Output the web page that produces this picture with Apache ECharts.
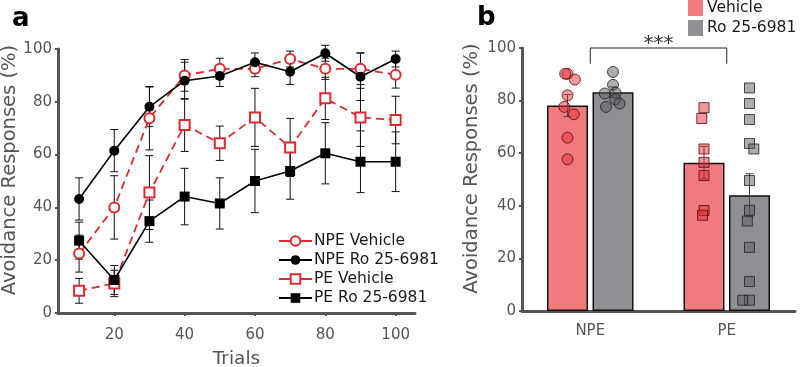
<!DOCTYPE html>
<html>
<head>
<meta charset="utf-8">
<script src="https://cdn.jsdelivr.net/npm/echarts@6/dist/echarts.min.js"></script>
<style>
  html, body { margin: 0; padding: 0; background: #fff; }
  #chart { width: 800px; height: 367px; }
</style>
</head>
<body>
<div id="chart"></div>
<script>
// panel a: avoidance over trials (mean +/- sem)
var trials = [10, 20, 30, 40, 50, 60, 70, 80, 90, 100];
var trialTicks = [20, 40, 60, 80, 100];
var npeVehicle = [22.5, 40, 73.8, 90, 92.5, 92.5, 96.2, 92.5, 92.5, 90.2];
var npeVehicleErr = [7, 12, 12, 6, 4, 3, 3, 4, 6, 5];
var npeRo = [43.2, 61.5, 78.1, 88, 89.8, 95, 91.4, 98.4, 89.5, 96.2];
var npeRoErr = [8, 8, 7.5, 7, 4, 3.5, 4.8, 3, 9, 3];
var peVehicle = [8.4, 11.2, 45.6, 71.2, 64.3, 74.1, 62.7, 81.3, 74.1, 73.1];
var peVehicleErr = [4.7, 5, 14, 10, 6.5, 11, 11, 8, 11, 9];
var peRo = [27.4, 12.5, 34.8, 44.1, 41.5, 50, 53.8, 60.5, 57.3, 57.3];
var peRoErr = [7, 5.5, 8, 10.7, 9.7, 12, 10.7, 11.6, 11.7, 11.3];

// panel b: group means, sem and individual animals
var groups = ['NPE', 'PE'];
var vehicleMean = [78.1, 56.4];
var vehicleSem = [4.2, 6.2];
var roMean = [83.2, 44.0];
var roSem = [2, 8.2];
var npeVehiclePts = [90.2, 90.2, 88, 82, 77.6, 74.8, 65.9, 57.7];
var npeRoPts = [90.9, 86, 83, 82.7, 80.5, 78.9, 77.6];
var peVehiclePts = [77.3, 73.2, 61.6, 56.5, 51.5, 38.2, 36.4];
var peRoPts = [84.8, 78.9, 72.8, 63.7, 61.6, 49.6, 38.3, 34.2, 24.2, 11.2, 4.1, 4.1];
// hidden slot axis, one slot per bar (with spacers)
var slots = ['s0', 'NPE Vehicle', 'NPE Ro', 'gap', 'PE Vehicle', 'PE Ro', 's6'];

var RED = '#de2a2e';
var FONT = 'DejaVu Sans';
var AXIS = '#555';

function errorBar(params, api) {
  var x = api.value(0), y = api.value(1), e = api.value(2);
  var hi = api.coord([x, y + e]);
  var lo = api.coord([x, y - e]);
  var w = 4;
  var st = { stroke: params.seriesIndex >= 8 ? '#444' : '#111', lineWidth: 1 };
  return {
    type: 'group',
    children: [
      { type: 'line', shape: { x1: hi[0], y1: hi[1], x2: lo[0], y2: lo[1] }, style: st },
      { type: 'line', shape: { x1: hi[0] - w, y1: hi[1], x2: hi[0] + w, y2: hi[1] }, style: st },
      { type: 'line', shape: { x1: lo[0] - w, y1: lo[1], x2: lo[0] + w, y2: lo[1] }, style: st }
    ]
  };
}

function bracket(params, api) {
  var a = api.coord([api.value(0), api.value(3)]);
  var b = api.coord([api.value(0), api.value(2)]);
  var c = api.coord([api.value(1), api.value(2)]);
  var d = api.coord([api.value(1), api.value(3)]);
  return {
    type: 'group',
    children: [
      { type: 'polyline', shape: { points: [a, b, c, d] }, style: { stroke: '#222', lineWidth: 1, fill: null } },
      { type: 'text', x: (b[0] + c[0]) / 2, y: b[1] + 6,
        style: { text: '***', font: '20px ' + FONT, fill: '#333', align: 'center', verticalAlign: 'bottom' } }
    ]
  };
}

function withErr(vals, errs) {
  return trials.map(function (t, i) { return [t, vals[i], errs[i]]; });
}
function pairs(vals) {
  return trials.map(function (t, i) { return [t, vals[i]]; });
}
function pts(slot, vals) {
  return vals.map(function (v) { return [slot, v]; });
}

var chart = echarts.init(document.getElementById('chart'));

var option = {
  animation: false,
  textStyle: { fontFamily: FONT },
  title: [
    { text: 'a', left: 12, top: 6, padding: 0, textStyle: { fontSize: 26, fontWeight: 'bold', color: '#000', fontFamily: FONT } },
    { text: 'b', left: 477, top: 5, padding: 0, textStyle: { fontSize: 26, fontWeight: 'bold', color: '#000', fontFamily: FONT } }
  ],
  legend: [
    {
      data: ['NPE Vehicle', 'NPE Ro 25-6981', 'PE Vehicle', 'PE Ro 25-6981'],
      orient: 'vertical',
      left: 278, top: 233,
      padding: 0,
      itemWidth: 33, itemHeight: 12, itemGap: 3,
      lineStyle: { type: 'solid' },
      textStyle: { fontSize: 15.5, color: '#1a1a1a', fontFamily: FONT, padding: [0, 0, 0, -3] }
    },
    {
      data: ['Vehicle', 'Ro 25-6981'],
      orient: 'vertical',
      left: 688, top: 0,
      padding: 0,
      icon: 'rect',
      itemWidth: 15, itemHeight: 16, itemGap: 4,
      itemStyle: { borderWidth: 0 },
      textStyle: { fontSize: 15.5, color: '#1a1a1a', fontFamily: FONT, padding: [3, 0, 0, -1] }
    }
  ],
  grid: [
    { left: 58, top: 49, width: 357, height: 264, outerBoundsMode: 'none' },
    { left: 522, top: 48, width: 273, height: 263, outerBoundsMode: 'none' }
  ],
  xAxis: [
    {
      gridIndex: 0, type: 'value', min: 4, max: 105.5,
      name: 'Trials', nameLocation: 'middle', nameGap: 37,
      nameTextStyle: { fontSize: 18.5, color: AXIS, fontFamily: FONT },
      axisLine: { lineStyle: { color: AXIS, width: 3 } },
      axisTick: { customValues: trialTicks, length: 3, lineStyle: { color: AXIS, width: 2 } },
      axisLabel: { customValues: trialTicks, fontSize: 15, color: AXIS, margin: 15, fontFamily: FONT },
      splitLine: { show: false }
    },
    {
      gridIndex: 1, type: 'category', data: groups,
      axisLine: { lineStyle: { color: AXIS, width: 3 } },
      axisTick: { alignWithLabel: true, length: 3, lineStyle: { color: AXIS, width: 2 } },
      axisLabel: { fontSize: 15, color: AXIS, margin: 13, fontFamily: FONT }
    },
    {
      gridIndex: 1, type: 'category', data: slots, boundaryGap: false,
      jitter: 18, jitterOverlap: false, jitterMargin: 1,
      show: false
    }
  ],
  yAxis: [
    {
      gridIndex: 0, type: 'value', min: 0, max: 100, interval: 20,
      name: 'Avoidance Responses (%)', nameLocation: 'middle', nameGap: 38,
      nameTextStyle: { fontSize: 19.5, color: AXIS, fontFamily: FONT, padding: [0, 0, 0, 22] },
      axisLine: { show: true, lineStyle: { color: AXIS, width: 3 } },
      axisTick: { show: true, length: 3, lineStyle: { color: AXIS, width: 2 } },
      axisLabel: { fontSize: 15, color: AXIS, margin: 6, fontFamily: FONT },
      splitLine: { show: false }
    },
    {
      gridIndex: 1, type: 'value', min: 0, max: 100, interval: 20,
      name: 'Avoidance Responses (%)', nameLocation: 'middle', nameGap: 40,
      nameTextStyle: { fontSize: 19.5, color: AXIS, fontFamily: FONT, padding: [0, 0, 0, 22] },
      axisLine: { show: true, lineStyle: { color: AXIS, width: 3 } },
      axisTick: { show: true, length: 3, lineStyle: { color: AXIS, width: 2 } },
      axisLabel: { fontSize: 15, color: AXIS, margin: 6, fontFamily: FONT },
      splitLine: { show: false }
    }
  ],
  series: [
    // 0-3 error bars panel a
    { type: 'custom', xAxisIndex: 0, yAxisIndex: 0, renderItem: errorBar, data: withErr(npeVehicle, npeVehicleErr), z: 1, silent: true },
    { type: 'custom', xAxisIndex: 0, yAxisIndex: 0, renderItem: errorBar, data: withErr(npeRo, npeRoErr), z: 1, silent: true },
    { type: 'custom', xAxisIndex: 0, yAxisIndex: 0, renderItem: errorBar, data: withErr(peVehicle, peVehicleErr), z: 1, silent: true },
    { type: 'custom', xAxisIndex: 0, yAxisIndex: 0, renderItem: errorBar, data: withErr(peRo, peRoErr), z: 1, silent: true },
    // 4-7 lines panel a
    {
      name: 'NPE Vehicle', type: 'line', xAxisIndex: 0, yAxisIndex: 0, data: pairs(npeVehicle), z: 3,
      symbol: 'emptyCircle', symbolSize: 10,
      lineStyle: { color: RED, width: 1.8, type: [8, 5] },
      itemStyle: { color: RED, borderWidth: 1.6 }
    },
    {
      name: 'NPE Ro 25-6981', type: 'line', xAxisIndex: 0, yAxisIndex: 0, data: pairs(npeRo), z: 4,
      symbol: 'circle', symbolSize: 10,
      lineStyle: { color: '#000', width: 1.6 },
      itemStyle: { color: '#000' }
    },
    {
      name: 'PE Vehicle', type: 'line', xAxisIndex: 0, yAxisIndex: 0, data: pairs(peVehicle), z: 3,
      symbol: 'emptyRect', symbolSize: 10,
      lineStyle: { color: RED, width: 1.8, type: [8, 5] },
      itemStyle: { color: RED, borderWidth: 1.6 }
    },
    {
      name: 'PE Ro 25-6981', type: 'line', xAxisIndex: 0, yAxisIndex: 0, data: pairs(peRo), z: 4,
      symbol: 'rect', symbolSize: 10,
      lineStyle: { color: '#000', width: 1.6 },
      itemStyle: { color: '#000' }
    },
    // 8-9 error bars panel b
    {
      type: 'custom', xAxisIndex: 2, yAxisIndex: 1, renderItem: errorBar, z: 3, silent: true,
      data: [['NPE Vehicle', vehicleMean[0], vehicleSem[0]], ['PE Vehicle', vehicleMean[1], vehicleSem[1]]]
    },
    {
      type: 'custom', xAxisIndex: 2, yAxisIndex: 1, renderItem: errorBar, z: 3, silent: true,
      data: [['NPE Ro', roMean[0], roSem[0]], ['PE Ro', roMean[1], roSem[1]]]
    },
    // bars
    {
      name: 'Vehicle', type: 'bar', xAxisIndex: 1, yAxisIndex: 1, data: vehicleMean,
      barWidth: 41, barGap: '11%', z: 2,
      itemStyle: { color: '#f07b7f', borderColor: '#111', borderWidth: 1.5 }
    },
    {
      name: 'Ro 25-6981', type: 'bar', xAxisIndex: 1, yAxisIndex: 1, data: roMean,
      barWidth: 41, barGap: '11%', z: 2,
      itemStyle: { color: '#8f9094', borderColor: '#111', borderWidth: 1.5 }
    },
    // individual animals
    {
      type: 'scatter', xAxisIndex: 2, yAxisIndex: 1, data: pts('NPE Vehicle', npeVehiclePts), z: 5,
      symbol: 'circle', symbolSize: 11,
      itemStyle: { color: 'rgba(228, 40, 50, 0.6)', borderColor: '#5a0808', borderWidth: 1 }
    },
    {
      type: 'scatter', xAxisIndex: 2, yAxisIndex: 1, data: pts('NPE Ro', npeRoPts), z: 5,
      symbol: 'circle', symbolSize: 11,
      itemStyle: { color: 'rgba(90, 90, 95, 0.62)', borderColor: '#222', borderWidth: 1 }
    },
    {
      type: 'scatter', xAxisIndex: 2, yAxisIndex: 1, data: pts('PE Vehicle', peVehiclePts), z: 5,
      symbol: 'rect', symbolSize: 10,
      itemStyle: { color: 'rgba(228, 40, 50, 0.6)', borderColor: '#5a0808', borderWidth: 1 }
    },
    {
      type: 'scatter', xAxisIndex: 2, yAxisIndex: 1, data: pts('PE Ro', peRoPts), z: 5,
      symbol: 'rect', symbolSize: 10,
      itemStyle: { color: 'rgba(90, 90, 95, 0.62)', borderColor: '#222', borderWidth: 1 }
    },
    // significance bracket NPE vs PE
    {
      type: 'custom', xAxisIndex: 1, yAxisIndex: 1, renderItem: bracket, z: 5, silent: true,
      data: [[0, 1, 100, 94]]
    }
  ]
};

chart.setOption(option);
</script>
</body>
</html>
